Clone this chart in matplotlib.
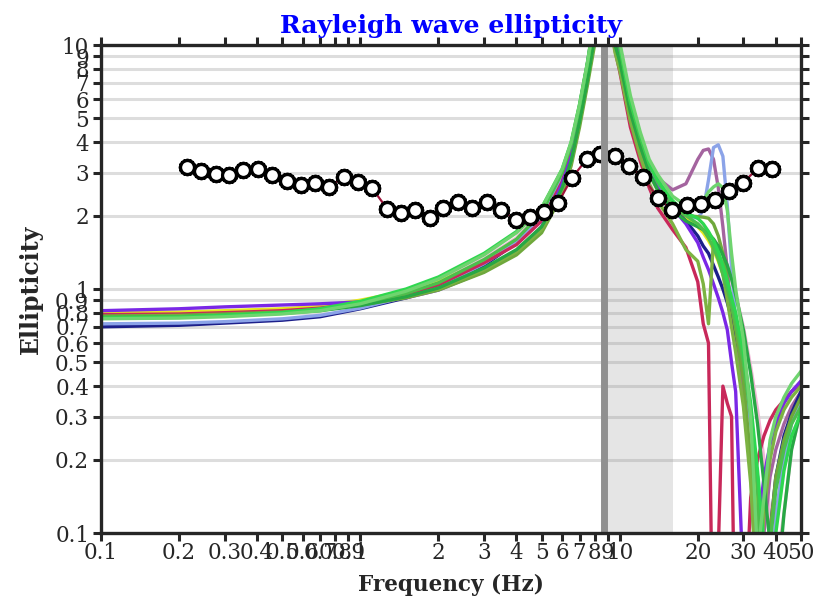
import matplotlib
matplotlib.use("Agg")
import matplotlib.pyplot as plt
from matplotlib.ticker import FixedLocator, FixedFormatter

plt.rcParams['font.family'] = ['DejaVu Serif']

# observed ellipticity (black circles)
obs_freq = [0.215, 0.243, 0.278, 0.312, 0.353, 0.403, 0.456, 0.521, 0.590, 0.668,
            0.757, 0.865, 0.979, 1.11, 1.27, 1.43, 1.62, 1.86, 2.08, 2.38,
            2.69, 3.08, 3.48, 3.98, 4.51, 5.10, 5.78, 6.54, 7.47, 8.39,
            9.58, 10.85, 12.29, 14.04, 15.90, 18.16, 20.56, 23.28, 26.36, 29.85,
            34.1, 38.6]
obs_ell = [3.16, 3.05, 2.96, 2.93, 3.07, 3.10, 2.93, 2.77, 2.67, 2.72,
           2.62, 2.88, 2.75, 2.59, 2.13, 2.05, 2.11, 1.95, 2.15, 2.27,
           2.15, 2.27, 2.11, 1.92, 1.97, 2.07, 2.25, 2.85, 3.41, 3.57,
           3.51, 3.19, 2.88, 2.36, 2.11, 2.21, 2.23, 2.32, 2.52, 2.72,
           3.13, 3.10]

# model curves: branch below and above the peak
freq_left = [0.1, 0.2, 0.3, 0.5, 0.7, 1.0, 1.5, 2, 3, 4, 5, 5.5, 6, 6.5, 7, 7.5, 8, 8.5]
freq_right = [9.2, 9.6, 10, 11, 12, 13, 14, 16, 18, 20, 21, 22, 23, 24, 25, 26, 27, 28,
              30, 32, 34, 36, 38, 40, 43, 46, 50]

pink_left = [0.79, 0.795, 0.805, 0.82, 0.845, 0.89, 0.975, 1.07, 1.33, 1.62, 2.08, 2.5, 3.05, 3.95, 5.65, 8.4, 12.8, 22]
pink_right = [14, 10.5, 9.1, 5.5, 4.0, 3.1, 2.65, 2.2, 1.95, 1.85, 1.78, 1.7, 1.6, 1.5, 1.38, 1.25, 1.1, 0.95,
              0.7, 0.48, 0.32, 0.2, 0.12, 0.07, 0.12, 0.22, 0.32]
mauve_left = [0.79, 0.795, 0.805, 0.82, 0.84, 0.88, 0.96, 1.05, 1.3, 1.57, 2.0, 2.42, 2.95, 3.8, 5.45, 8.1, 12.3, 21]
mauve_right = [14, 10.5, 9.2, 5.7, 4.2, 3.3, 2.85, 2.55, 2.7, 3.4, 3.7, 3.75, 3.4, 2.6, 1.8, 1.2, 0.8, 0.6,
               0.35, 0.18, 0.05, 0.1, 0.17, 0.22, 0.28, 0.33, 0.38]
yellow_left = [0.80, 0.805, 0.815, 0.83, 0.85, 0.90, 0.98, 1.07, 1.3, 1.55, 1.95, 2.35, 2.85, 3.7, 5.3, 7.8, 12, 20]
yellow_right = [15, 11, 9.3, 5.6, 4.05, 3.1, 2.65, 2.2, 1.95, 1.8, 1.7, 1.58, 1.45, 1.3, 1.15, 1.0, 0.85, 0.72,
                0.48, 0.28, 0.13, 0.05, 0.1, 0.16, 0.23, 0.29, 0.35]
navy_left = [0.70, 0.71, 0.725, 0.745, 0.77, 0.83, 0.92, 1.01, 1.25, 1.55, 2.0, 2.45, 3.0, 3.9, 5.6, 8.3, 13, 24]
navy_right = [14, 10.5, 9.1, 5.5, 3.95, 3.05, 2.6, 2.15, 1.9, 1.65, 1.5, 1.4, 1.25, 1.12, 1.0, 0.88, 0.76, 0.66,
              0.46, 0.3, 0.17, 0.06, 0.1, 0.17, 0.25, 0.31, 0.38]
lblue_left = [0.72, 0.725, 0.735, 0.755, 0.78, 0.835, 0.93, 1.02, 1.27, 1.55, 1.98, 2.4, 2.95, 3.85, 5.5, 8.2, 12.5, 22]
lblue_right = [15, 11, 9.4, 5.7, 4.1, 3.15, 2.7, 2.25, 2.0, 1.95, 2.1, 2.8, 3.8, 3.9, 3.5, 2.2, 1.2, 0.75,
               0.45, 0.28, 0.16, 0.09, 0.05, 0.12, 0.2, 0.28, 0.35]
red_left = [0.785, 0.79, 0.80, 0.815, 0.835, 0.875, 0.95, 1.04, 1.28, 1.52, 1.9, 2.3, 2.75, 3.6, 5.2, 7.7, 11.5, 20]
red_right = [13, 9.5, 7.8, 4.6, 3.35, 2.6, 2.15, 1.75, 1.48, 1.07, 0.72, 0.6, 0.02, 0.085, 0.40, 0.34, 0.30, 0.02,
             0.03, 0.14, 0.2, 0.25, 0.29, 0.32, 0.35, 0.38, 0.41]
purple_left = [0.815, 0.83, 0.845, 0.86, 0.87, 0.885, 0.92, 0.99, 1.18, 1.42, 1.8, 2.2, 2.7, 3.5, 5.0, 7.4, 11, 19]
purple_right = [14, 10.5, 9.0, 5.4, 3.9, 3.0, 2.6, 2.15, 1.85, 1.55, 1.35, 1.2, 1.05, 0.92, 0.8, 0.68, 0.5, 0.38,
                0.06, 0.03, 0.1, 0.17, 0.23, 0.28, 0.34, 0.38, 0.42]
olive_left = [0.775, 0.78, 0.79, 0.805, 0.825, 0.86, 0.92, 0.99, 1.17, 1.38, 1.7, 2.05, 2.45, 3.2, 4.6, 6.8, 10, 17]
olive_right = [13, 10, 8.5, 5.2, 3.8, 2.95, 2.55, 2.15, 2.0, 1.98, 1.97, 1.95, 1.85, 1.65, 1.4, 1.1, 0.85, 0.68,
               0.42, 0.2, 0.1, 0.05, 0.1, 0.17, 0.24, 0.3, 0.36]
olive2_left = [0.77, 0.775, 0.785, 0.80, 0.82, 0.86, 0.93, 1.0, 1.2, 1.42, 1.75, 2.1, 2.55, 3.3, 4.8, 7.0, 10.5, 18]
olive2_right = [12, 9.3, 7.9, 4.85, 3.5, 2.7, 2.3, 1.85, 1.45, 1.3, 1.05, 0.72, 1.6, 1.4, 1.15, 0.9, 0.7, 0.55,
                0.33, 0.16, 0.05, 0.12, 0.2, 0.26, 0.32, 0.36, 0.4]
dgreen_left = [0.765, 0.77, 0.78, 0.795, 0.815, 0.855, 0.93, 1.01, 1.22, 1.45, 1.8, 2.15, 2.6, 3.35, 4.85, 7.1, 10.7, 18]
dgreen_right = [13, 10, 8.6, 5.3, 3.85, 3.0, 2.55, 2.1, 1.9, 1.8, 1.75, 1.68, 1.6, 1.5, 1.38, 1.25, 1.1, 0.95,
                0.68, 0.45, 0.28, 0.16, 0.09, 0.05, 0.12, 0.22, 0.32]
green_left = [0.765, 0.77, 0.78, 0.80, 0.825, 0.875, 0.96, 1.06, 1.32, 1.6, 2.05, 2.5, 3.0, 3.9, 5.6, 8.3, 12.5, 22]
green_right = [16, 11.5, 9.8, 5.8, 4.2, 3.25, 2.75, 2.25, 2.0, 1.85, 1.75, 1.62, 1.48, 1.32, 1.15, 1.0, 0.86, 0.73,
               0.5, 0.3, 0.15, 0.04, 0.09, 0.15, 0.22, 0.28, 0.33]
bgreen_left = [0.76, 0.765, 0.78, 0.80, 0.83, 0.89, 1.0, 1.12, 1.4, 1.72, 2.15, 2.6, 3.1, 4.0, 5.7, 8.4, 13, 23]
bgreen_right = [16, 12, 10, 5.9, 4.3, 3.3, 2.8, 2.3, 2.05, 1.95, 1.85, 1.72, 1.58, 1.42, 1.25, 1.08, 0.92, 0.8,
                0.55, 0.34, 0.18, 0.09, 0.04, 0.1, 0.18, 0.25, 0.31]
lgreen_left = [0.755, 0.76, 0.77, 0.79, 0.815, 0.87, 0.98, 1.1, 1.38, 1.7, 2.15, 2.6, 3.1, 4.0, 5.7, 8.4, 13, 23]
lgreen_right = [17, 12.5, 10.3, 6.2, 4.4, 3.4, 2.95, 2.4, 2.2, 2.15, 2.3, 2.5, 2.62, 2.7, 2.6, 2.1, 1.4, 1.0,
                0.62, 0.3, 0.08, 0.14, 0.24, 0.3, 0.36, 0.41, 0.46]

curves = [
    ('#f2b6d6', pink_left, pink_right),
    ('#a4649f', mauve_left, mauve_right),
    ('#e6e620', yellow_left, yellow_right),
    ('#1c1f8a', navy_left, navy_right),
    ('#8ba3e8', lblue_left, lblue_right),
    ('#c8285a', red_left, red_right),
    ('#7a28e6', purple_left, purple_right),
    ('#6fa83c', olive_left, olive_right),
    ('#7cb342', olive2_left, olive2_right),
    ('#27a844', dgreen_left, dgreen_right),
    ('#4cbf4c', green_left, green_right),
    ('#2ed84f', bgreen_left, bgreen_right),
    ('#6fd46f', lgreen_left, lgreen_right),
]

peak_freq = 8.7
band = (8.7, 16.0)

xticks = [0.1, 0.2, 0.3, 0.4, 0.5, 0.6, 0.7, 0.8, 0.9, 1, 2, 3, 4, 5, 6, 7, 8, 9, 10, 20, 30, 40, 50]
yticks = [0.1, 0.2, 0.3, 0.4, 0.5, 0.6, 0.7, 0.8, 0.9, 1, 2, 3, 4, 5, 6, 7, 8, 9, 10]

dark = '#262626'
fig = plt.figure(figsize=(8.13, 6.02), dpi=100)
ax = fig.add_axes([0.1242, 0.1146, 0.861, 0.8106])
ax.set_xscale('log')
ax.set_yscale('log')
ax.set_xlim(0.1, 50)
ax.set_ylim(0.1, 10)

for yv in yticks:
    ax.axhline(yv, color='#dddddd', lw=2.2, zorder=0)

ax.axvspan(band[0], band[1], color='#999999', alpha=0.25, lw=0, zorder=1)

for color, left, right in curves:
    ax.plot(freq_left, left, color=color, lw=2.4, zorder=2)
    ax.plot(freq_right, right, color=color, lw=2.4, zorder=2)

ax.plot(obs_freq, obs_ell, color='#a0143c', lw=1.6, zorder=3)
ax.plot(obs_freq, obs_ell, ls='none', marker=(16, 2, 0), ms=12.5, mec='black', mew=1.6, zorder=4)
ax.plot(obs_freq, obs_ell, ls='none', marker='o', ms=10, mfc='white', mec='black', mew=2.3, zorder=5)

ax.axvline(peak_freq, color='#909090', lw=5, zorder=6)

ax.xaxis.set_major_locator(FixedLocator(xticks))
ax.xaxis.set_major_formatter(FixedFormatter([f'{v:g}' for v in xticks]))
ax.xaxis.set_minor_locator(FixedLocator([]))
ax.yaxis.set_major_locator(FixedLocator(yticks))
ax.yaxis.set_major_formatter(FixedFormatter([f'{v:g}' for v in yticks]))
ax.yaxis.set_minor_locator(FixedLocator([]))
ax.tick_params(axis='both', which='major', direction='out', length=5.5, width=2.2,
               color=dark, labelcolor=dark, labelsize=15.5, top=True, right=True, pad=3)
ax.tick_params(axis='x', pad=1)

for sp in ax.spines.values():
    sp.set_linewidth(2.4)
    sp.set_color(dark)
    sp.set_zorder(7)

ax.set_title('Rayleigh wave ellipticity', color='blue', fontweight='bold', fontsize=18, pad=9)
ax.set_xlabel('Frequency (Hz)', fontweight='bold', fontsize=15.5, color=dark, labelpad=7)
ax.set_ylabel('Ellipticity', fontweight='bold', fontsize=17, color=dark, labelpad=9)

fig.savefig('out.png', dpi=100)
